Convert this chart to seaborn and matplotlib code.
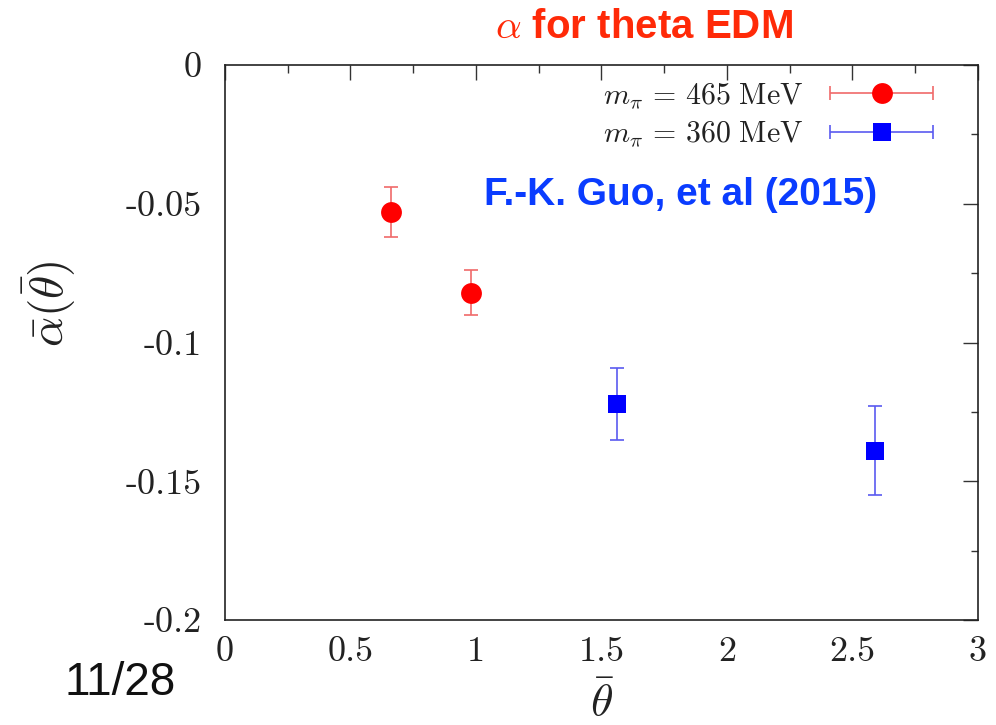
import matplotlib
matplotlib.use("Agg")
import matplotlib.pyplot as plt
import seaborn as sns
import pandas as pd
from matplotlib.lines import Line2D
from matplotlib.container import ErrorbarContainer
from matplotlib.legend_handler import HandlerErrorbar
from matplotlib.ticker import MultipleLocator, FixedLocator, FixedFormatter

# ---- data ----
theta_465 = [0.66, 0.98]
alpha_465 = [-0.053, -0.082]
err_465 = [0.009, 0.008]

theta_360 = [1.56, 2.59]
alpha_360 = [-0.122, -0.139]
err_360 = [0.013, 0.016]

label_465 = r"$m_\pi\,=\,465\ \mathrm{MeV}$"
label_360 = r"$m_\pi\,=\,360\ \mathrm{MeV}$"

xticks = [0, 0.5, 1, 1.5, 2, 2.5, 3]
xticklabels = ["0", "0.5", "1", "1.5", "2", "2.5", "3"]
yticks = [0, -0.05, -0.1, -0.15, -0.2]
yticklabels = ["0", "-0.05", "-0.1", "-0.15", "-0.2"]

title_text = r"$\alpha$ for theta EDM"
ref_text = "F.-K. Guo, et al (2015)"
page_text = "11/28"

# ---- style ----
sns.set_style("white")
plt.rcParams["mathtext.fontset"] = "cm"
plt.rcParams["axes.unicode_minus"] = False

red, blue = "#ff0000", "#0000ff"
red_err, blue_err = "#f06a6a", "#5a5af0"

fig = plt.figure(figsize=(9.96, 7.25), dpi=100)
ax = fig.add_axes([0.2259, 0.1448, 0.756, 0.7655])

df465 = pd.DataFrame({"theta": theta_465, "alpha": alpha_465})
df360 = pd.DataFrame({"theta": theta_360, "alpha": alpha_360})

eb1 = ax.errorbar(theta_465, alpha_465, yerr=err_465, fmt="none", ecolor=red_err,
                  elinewidth=1.2, capsize=4.7, capthick=1.2, zorder=2)
eb2 = ax.errorbar(theta_360, alpha_360, yerr=err_360, fmt="none", ecolor=blue_err,
                  elinewidth=1.2, capsize=4.7, capthick=1.2, zorder=2)
sns.scatterplot(data=df465, x="theta", y="alpha", marker="o", s=225, color=red,
                linewidth=0, ax=ax, zorder=3)
sns.scatterplot(data=df360, x="theta", y="alpha", marker="s", s=169, color=blue,
                linewidth=0, ax=ax, zorder=3)

ax.set_xlim(0, 3)
ax.set_ylim(-0.2, 0)

ax.xaxis.set_major_locator(FixedLocator(xticks))
ax.xaxis.set_major_formatter(FixedFormatter(xticklabels))
ax.yaxis.set_major_locator(FixedLocator(yticks))
ax.yaxis.set_major_formatter(FixedFormatter(yticklabels))
ax.xaxis.set_minor_locator(MultipleLocator(0.25))
ax.yaxis.set_minor_locator(MultipleLocator(0.025))

ax.tick_params(which="both", direction="in", top=True, right=True, color="#333333", width=1.0)
ax.tick_params(which="major", length=10.8)
ax.tick_params(which="minor", length=5.4)
ax.tick_params(axis="x", which="major", pad=12, labelsize=26, labelcolor="#222222")
ax.tick_params(axis="y", which="major", pad=17, labelsize=26, labelcolor="#222222")
for lab in ax.get_xticklabels() + ax.get_yticklabels():
    lab.set_fontfamily("cmr10")

for sp in ax.spines.values():
    sp.set_color("#222222")
    sp.set_linewidth(1.2)

ax.set_xlabel(r"$\bar{\theta}$", fontsize=33, color="#222222")
ax.set_ylabel(r"$\bar{\alpha}(\bar{\theta})$", fontsize=34, color="#222222")
ax.xaxis.set_label_coords(0.5, -0.11)
ax.yaxis.set_label_coords(-0.195, 0.57)

# legend (horizontal error bars as in the original)
mk1 = Line2D([], [], ls="none", marker="o", ms=15, color=red, mew=0)
mk2 = Line2D([], [], ls="none", marker="s", ms=13, color=blue, mew=0)
h1 = ErrorbarContainer((mk1, eb1.lines[1], eb1.lines[2]), has_xerr=True, has_yerr=False, label=label_465)
h2 = ErrorbarContainer((mk2, eb2.lines[1], eb2.lines[2]), has_xerr=True, has_yerr=False, label=label_360)
leg = ax.legend(handles=[h1, h2], loc="upper right", bbox_to_anchor=(0.94, 0.973),
                frameon=False, markerfirst=False, fontsize=21.5, handlelength=3.43,
                handletextpad=0.9, labelspacing=0.3, borderpad=0, borderaxespad=0,
                handler_map={ErrorbarContainer: HandlerErrorbar(xerr_size=1.72, numpoints=1)})
for t in leg.get_texts():
    t.set_color("#222222")

fig.text(644 / 996, 1 - 27 / 725, title_text, ha="center", va="center",
         fontsize=29, fontweight="bold", color="#ff2a08", fontfamily="Liberation Sans")
fig.text(681 / 996, 1 - 195 / 725, ref_text, ha="center", va="center",
         fontsize=28, fontweight="bold", color="#0a3cff", fontfamily="Liberation Sans")
fig.text(120 / 996, 1 - 683 / 725, page_text, ha="center", va="center",
         fontsize=33, color="#111111", fontfamily="Liberation Sans")

fig.savefig("out.png", dpi=100)
